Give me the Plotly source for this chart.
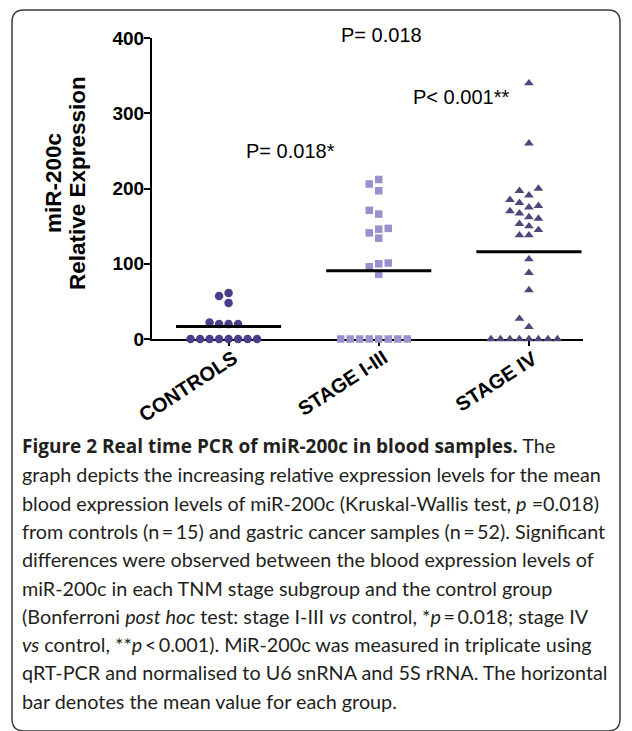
import plotly.graph_objects as go
import numpy as np

# ---------------- data ----------------
categories = ["CONTROLS", "STAGE I-III", "STAGE IV"]
controls = [0, 0, 0, 0, 0, 0, 0, 0, 20, 20, 20, 22, 48, 57, 61]
stage_1_3 = [0, 0, 0, 0, 0, 0, 0, 0, 86, 96, 100, 101, 134, 141, 146, 147,
             166, 171, 197, 206, 212]
stage_4 = [0, 0, 0, 0, 0, 0, 0, 0, 16, 27, 65, 88, 106, 138, 138, 145, 150,
           153, 160, 162, 167, 170, 175, 177, 181, 185, 191, 197, 200, 260, 340]
y_ticks = [0, 100, 200, 300, 400]
p_labels = ["P= 0.018*", "P= 0.018", "P< 0.001**"]
p_label_y = [250, 404, 322]
p_label_x = [0.41, 1.02, 1.55]

TS = "\u2009"  # thin space
caption_lines = [
    '<span style="font-family:Open Sans;font-size:19px"><b>Figure 2 Real time PCR of miR-200c in blood samples.</b></span> The',
    "graph depicts the increasing relative expression levels for the mean",
    "blood expression levels of miR-200c (Kruskal-Wallis test, <i>p</i> =0.018)",
    f"from controls (n{TS}={TS}15) and gastric cancer samples (n{TS}={TS}52). Significant",
    "differences were observed between the blood expression levels of",
    "miR-200c in each TNM stage subgroup and the control group",
    f"(Bonferroni <i>post hoc</i> test: stage I-III <i>vs</i> control, *<i>p</i>{TS}={TS}0.018; stage IV",
    f"<i>vs</i> control, **<i>p</i>{TS}&lt;{TS}0.001). MiR-200c was measured in triplicate using",
    "qRT-PCR and normalised to U6 snRNA and 5S rRNA. The horizontal",
    "bar denotes the mean value for each group.",
]

# ---------------- layout geometry (reference pixels) ----------------
OFF = 8                      # page body margin
WIN_W, WIN_H = 632, 731
W, H = WIN_W - OFF, WIN_H - OFF
L, R, T, B = 152, 583, 38, 339   # plot area in window pixels
PW, PH = R - L, B - T
X_RANGE = [-0.51, 2.36]
Y_RANGE = [0, 400]
ux = PW / (X_RANGE[1] - X_RANGE[0])   # px per category unit
uy = PH / (Y_RANGE[1] - Y_RANGE[0])   # px per value unit


def px(xp):
    return (xp - L) / PW


def py(yp):
    return (B - yp) / PH


def swarm(values, step_px=9.5, gap_px=9.0):
    """Column-scatter placement: put points in side-by-side slots."""
    vals = np.asarray(values, dtype=float)
    order = np.argsort(vals, kind="stable")
    thresh = gap_px / uy
    placed = []
    offs = np.zeros(len(vals))
    cand = [0]
    for n in range(1, 30):
        cand += [-n, n]
    for i in order:
        v = vals[i]
        for k in cand:
            if all(not (s == k and abs(v - pv) < thresh) for s, pv in placed):
                break
        placed.append((k, v))
        offs[i] = k * step_px / ux
    return offs


groups = [controls, stage_1_3, stage_4]
symbols = ["circle", "square", "triangle-up"]
colors = ["#4A3D8A", "#9B8FCD", "#4E4878"]
sizes = [8.5, 7.5, 8.5]

fig = go.Figure()
for ci, (vals, sym, col, sz) in enumerate(zip(groups, symbols, colors, sizes)):
    offs = swarm(vals)
    fig.add_trace(go.Scatter(
        x=ci + offs, y=vals, mode="markers",
        marker=dict(symbol=sym, color=col, size=sz, line=dict(width=0)),
        cliponaxis=False, showlegend=False, hoverinfo="skip"))

for ci, vals in enumerate(groups):
    m = float(np.mean(vals))
    fig.add_trace(go.Scatter(
        x=[ci - 0.35, ci + 0.35], y=[m, m], mode="lines",
        line=dict(color="black", width=3), cliponaxis=False,
        showlegend=False, hoverinfo="skip"))

annotations = []
for txt, xv, yv in zip(p_labels, p_label_x, p_label_y):
    annotations.append(dict(
        x=(xv - X_RANGE[0]) / (X_RANGE[1] - X_RANGE[0]),
        y=(yv - Y_RANGE[0]) / (Y_RANGE[1] - Y_RANGE[0]),
        xref="paper", yref="paper", text=txt, showarrow=False,
        font=dict(family="Liberation Sans", size=20, color="black"),
        xanchor="center", yanchor="middle"))

# category labels (rotated), anchored by their top-right corner
for ci, cat in enumerate(categories):
    annotations.append(dict(
        x=ci + 14 / ux, y=py(345), xref="x", yref="paper",
        text=f"<b>{cat}</b>", textangle=-33, showarrow=False,
        xanchor="right", yanchor="top", borderpad=0,
        font=dict(family="Liberation Sans", size=20, color="black")))

# y-axis title (two lines)
annotations.append(dict(x=px(53), y=py(183), xref="paper", yref="paper",
                        text="<b>miR-200c</b>", textangle=-90, showarrow=False,
                        font=dict(family="Liberation Sans", size=22.5, color="black"),
                        xanchor="center", yanchor="middle"))
annotations.append(dict(x=px(77), y=py(183), xref="paper", yref="paper",
                        text="<b>Relative Expression</b>", textangle=-90, showarrow=False,
                        font=dict(family="Liberation Sans", size=22.5, color="black"),
                        xanchor="center", yanchor="middle"))

cap_top = 446
cap_step = 28.3
for i, line in enumerate(caption_lines):
    annotations.append(dict(
        x=px(20), y=py(cap_top + i * cap_step), xref="paper", yref="paper",
        text=line, showarrow=False, xanchor="left", yanchor="middle",
        font=dict(family="Lato", size=19.8, color="#231F20")))

# rounded frame
fx0, fx1, fy0, fy1, rad = 12, 620, 10, 731, 12
path = (f"M {px(fx0)},{py(fy0 + rad)} "
        f"Q {px(fx0)},{py(fy0)} {px(fx0 + rad)},{py(fy0)} "
        f"L {px(fx1 - rad)},{py(fy0)} "
        f"Q {px(fx1)},{py(fy0)} {px(fx1)},{py(fy0 + rad)} "
        f"L {px(fx1)},{py(fy1 - rad)} "
        f"Q {px(fx1)},{py(fy1)} {px(fx1 - rad)},{py(fy1)} "
        f"L {px(fx0 + rad)},{py(fy1)} "
        f"Q {px(fx0)},{py(fy1)} {px(fx0)},{py(fy1 - rad)} Z")

fig.update_layout(
    width=W, height=H,
    margin=dict(l=L - OFF, r=WIN_W - R, t=T - OFF, b=WIN_H - B, pad=0),
    paper_bgcolor="white", plot_bgcolor="white",
    annotations=annotations,
    shapes=[dict(type="path", path=path, xref="paper", yref="paper",
                 line=dict(color="#3a3a3a", width=1.5), layer="below")],
    xaxis=dict(range=X_RANGE, tickvals=[0, 1, 2], showticklabels=False,
               showline=True, linecolor="black", linewidth=2,
               ticks="outside", ticklen=5, tickwidth=2, tickcolor="black",
               showgrid=False, zeroline=False, layer="below traces"),
    yaxis=dict(range=Y_RANGE, tickvals=y_ticks, showline=True, linecolor="black",
               linewidth=2, ticks="outside", ticklen=6, tickwidth=2,
               tickcolor="black", showgrid=False, zeroline=False,
               layer="below traces", ticklabelstandoff=-4,
               tickfont=dict(family="Liberation Sans", size=19, color="black",
                             weight="bold")),
)

fig.write_html("out.html")
